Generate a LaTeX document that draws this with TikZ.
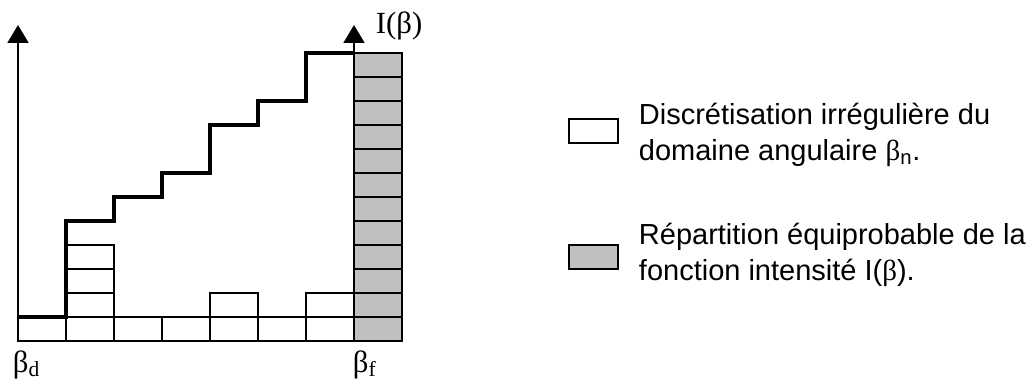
\documentclass[tikz,border=0pt]{standalone}
\usepackage{fontspec}
\setmainfont{Liberation Sans}
\newfontfamily\serif{Liberation Serif}
\usetikzlibrary{arrows.meta}
\definecolor{gris}{RGB}{192,192,192}

\begin{document}
\begin{tikzpicture}[x=0.02cm, y=0.02cm, line width=1.1pt,
    cell/.style={draw=black, fill=white},
    cellgris/.style={draw=black, fill=gris},
    stair/.style={line width=2.3pt},
    axe/.style={-{Triangle[length=0.36cm, width=0.42cm]}},
    legende/.style={anchor=base west, inner sep=0pt, font=\fontsize{16.5}{20}\selectfont},
    etiq/.style={anchor=base west, inner sep=0pt, font=\fontsize{17.5}{21}\selectfont\serif}]
    \useasboundingbox (0,0) rectangle (1032,383);

    % 底部网格 (不规则离散)
    \foreach \i in {0,...,6} {
        \draw[cell] (18+48*\i, 42) rectangle ++(48, 24);
    }
    \foreach \j in {1,2,3} {
        \draw[cell] (66, 42+24*\j) rectangle ++(48, 24);
    }
    \draw[cell] (210, 66) rectangle ++(48, 24);
    \draw[cell] (306, 66) rectangle ++(48, 24);

    % 灰色等概率分布
    \foreach \j in {0,...,11} {
        \draw[cellgris] (354, 42+24*\j) rectangle ++(48, 24);
    }

    % 阶梯曲线
    \draw[stair] (18,66) -- (66,66) -- (66,162) -- (114,162) -- (114,186)
        -- (162,186) -- (162,210) -- (210,210) -- (210,258) -- (258,258)
        -- (258,282) -- (306,282) -- (306,330) -- (354,330);

    % 坐标轴
    \coordinate (O1) at (18, 42);
    \coordinate (T1) at (18, 358);
    \coordinate (O2) at (354, 42);
    \coordinate (T2) at (354, 358);
    \draw[axe] (O1) -- (T1);
    \draw[axe] (O2) -- (T2);

    % 标签
    \node[etiq] (bd) at (12, 11) {β\textsubscript{d}};
    \node[etiq] (bf) at (352, 11) {β\textsubscript{f}};
    \node[etiq] (Ib) at (375, 350) {I(β)};

    % 图例
    \draw[cell] (569, 240) rectangle (618, 264);
    \draw[cellgris] (569, 114) rectangle (618, 138);
    \node[legende] (l1) at (638, 259) {Discrétisation irrégulière du};
    \node[legende] (l2) at (638, 223) {domaine angulaire {\serif β}\textsubscript{n}.};
    \node[legende] (l3) at (638, 139) {Répartition équiprobable de la};
    \node[legende] (l4) at (638, 103) {fonction intensité I({\serif β}).};
\end{tikzpicture}
\end{document}
